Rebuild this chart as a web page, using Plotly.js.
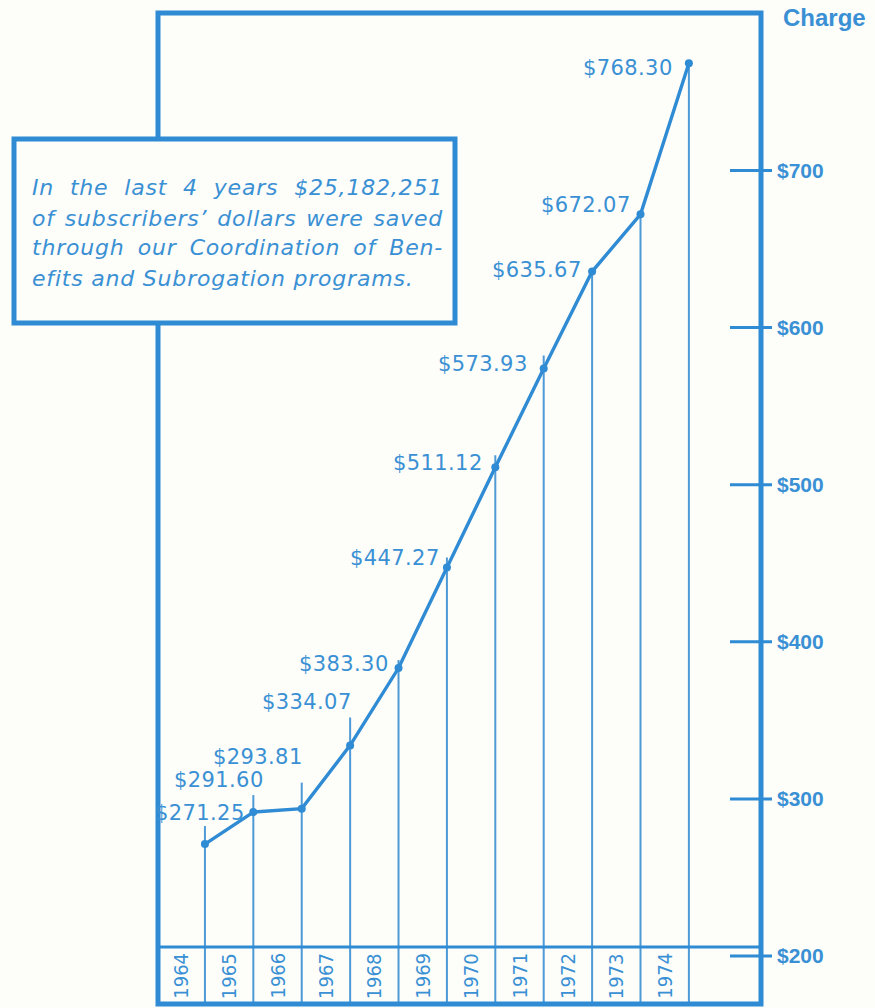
<!DOCTYPE html>
<html>
<head>
<meta charset="utf-8">
<script src="https://cdn.plot.ly/plotly-3.0.1.min.js"></script>
<style>
  html, body { margin: 0; padding: 0; background: #fdfdf9; }
  #chart { width: 875px; height: 1008px; }
</style>
</head>
<body>
<div id="chart"></div>
<script>
// ---------------- data ----------------
const years = ['1964', '1965', '1966', '1967', '1968', '1969', '1970', '1971', '1972', '1973', '1974'];
const charges = [271.25, 291.60, 293.81, 334.07, 383.30, 447.27, 511.12, 573.93, 635.67, 672.07, 768.30];
const tickVals = [200, 300, 400, 500, 600, 700];
const tickText = ['$200', '$300', '$400', '$500', '$600', '$700'];
const axisTitle = 'Charge';
const noteLines = [
  'In the last 4 years $25,182,251',
  'of subscribers\u2019 dollars were saved',
  'through our Coordination of Ben-',
  'efits and Subrogation programs.'
];

// ---------------- style / layout ----------------
const BLUE = '#2f8bd3';
const TEXT = '#3a90d4';
const DROP = '#4d9ad6';
const BG = '#fdfdf9';
const W = 875, H = 1008;
const M = { l: 158, r: 114, t: 13, b: 4 };
const plotW = W - M.l - M.r, plotH = H - M.t - M.b;
const xRange = [0.03, 12.49];
const yRange = [169.45, 800.25];
const pxPerUnit = plotH / (yRange[1] - yRange[0]);

// label offsets (px) relative to each point: right edge x, centre y (down positive)
const labelDX = [42, 13, 3, 4, -8, -5, -10, -14, -8, -8, -14];
const labelDY = [-31, -32, -52, -43, -4, -10, -4, -5, -2, -9, 5];
// how far each drop line pokes above its point (px)
const leaderExt = [18, 17, 26, 28, 8, 10, 12, 13, 0, 0, 0];

const paperX = p => (p - M.l) / plotW;
const paperY = p => (H - M.b - p) / plotH;

const xs = years.map((_, i) => i + 1);

// drop lines
const dropX = [], dropY = [];
xs.forEach((x, i) => {
  dropX.push(x, x, null);
  dropY.push(yRange[0], charges[i] + leaderExt[i] / pxPerUnit, null);
});

const traces = [
  { x: dropX, y: dropY, mode: 'lines', line: { color: DROP, width: 2 }, hoverinfo: 'skip', showlegend: false },
  { x: xs, y: charges, mode: 'lines+markers', line: { color: BLUE, width: 3.4 },
    marker: { color: BLUE, size: 8 }, hoverinfo: 'skip', showlegend: false }
];

// shapes
const shapes = [];
// frame
shapes.push({ type: 'rect', xref: 'paper', yref: 'paper', x0: 0, x1: 1, y0: 0, y1: 1,
  line: { color: BLUE, width: 5 }, fillcolor: 'rgba(0,0,0,0)', layer: 'above' });
// year strip line
shapes.push({ type: 'line', xref: 'paper', yref: 'paper', x0: 0, x1: 1, y0: paperY(947), y1: paperY(947),
  line: { color: BLUE, width: 3 }, layer: 'above' });
// tick marks crossing the right frame
tickVals.forEach(v => {
  shapes.push({ type: 'line', xref: 'paper', yref: 'y', x0: paperX(730), x1: paperX(772), y0: v, y1: v,
    line: { color: BLUE, width: 3 }, layer: 'above' });
});
// text box
shapes.push({ type: 'rect', xref: 'paper', yref: 'paper',
  x0: paperX(14), x1: paperX(455), y0: paperY(323), y1: paperY(139),
  line: { color: BLUE, width: 5 }, fillcolor: BG, layer: 'above' });

// annotations
const annotations = [];
// data labels
charges.forEach((v, i) => {
  annotations.push({ x: xs[i], y: v, xref: 'x', yref: 'y',
    text: `<span style="letter-spacing:0.4px">$${v.toFixed(2)}</span>`,
    showarrow: false, xanchor: 'right', yanchor: 'middle',
    xshift: labelDX[i], yshift: -labelDY[i],
    font: { family: 'DejaVu Sans', size: 21, color: TEXT } });
});
// year labels
years.forEach((yr, i) => {
  annotations.push({ x: i + 0.5, y: paperY(976), xref: 'x', yref: 'paper', text: yr,
    showarrow: false, textangle: -90, xanchor: 'center', yanchor: 'middle',
    font: { family: 'Liberation Sans Narrow, DejaVu Sans Condensed, Liberation Sans', size: 20, color: TEXT } });
});
// axis title
annotations.push({ x: paperX(781), y: paperY(18), xref: 'paper', yref: 'paper', text: axisTitle,
  showarrow: false, xanchor: 'left', yanchor: 'middle',
  font: { family: 'Liberation Sans', size: 24, weight: 'bold', color: TEXT } });

// justified note text
const NOTE_SIZE = 22;
const noteFont = { family: 'DejaVu Sans', size: NOTE_SIZE, style: 'italic', color: TEXT };
const cv = document.createElement('canvas').getContext('2d');
cv.font = `italic ${NOTE_SIZE}px "DejaVu Sans"`;
const LS = 0.8;           // letter spacing px
const targetW = 411;
const lineTop = 188, lineGap = 30;
noteLines.forEach((ln, i) => {
  const gaps = (ln.match(/ /g) || []).length;
  const natural = cv.measureText(ln).width + LS * ln.length;
  let ws = 0;
  if (i < noteLines.length - 1 && gaps > 0) ws = Math.max(0, (targetW - natural) / gaps);
  annotations.push({ x: paperX(30), y: paperY(lineTop + i * lineGap), xref: 'paper', yref: 'paper',
    text: `<span style="letter-spacing:${LS}px;word-spacing:${ws.toFixed(2)}px">${ln}</span>`,
    showarrow: false, xanchor: 'left', yanchor: 'middle', align: 'left', font: noteFont });
});

const layout = {
  width: W, height: H,
  margin: M,
  paper_bgcolor: BG, plot_bgcolor: BG,
  showlegend: false,
  xaxis: { range: xRange, showgrid: false, zeroline: false, showline: false, showticklabels: false, ticks: '', fixedrange: true },
  yaxis: { range: yRange, side: 'right', showgrid: false, zeroline: false, showline: false,
    tickmode: 'array', tickvals: tickVals, ticktext: tickText, ticks: '', ticklabelstandoff: 15,
    tickfont: { family: 'Liberation Sans', size: 21, weight: 'bold', color: TEXT }, fixedrange: true },
  shapes: shapes,
  annotations: annotations
};

Plotly.newPlot('chart', traces, layout, { displayModeBar: false, staticPlot: true });
</script>
</body>
</html>
